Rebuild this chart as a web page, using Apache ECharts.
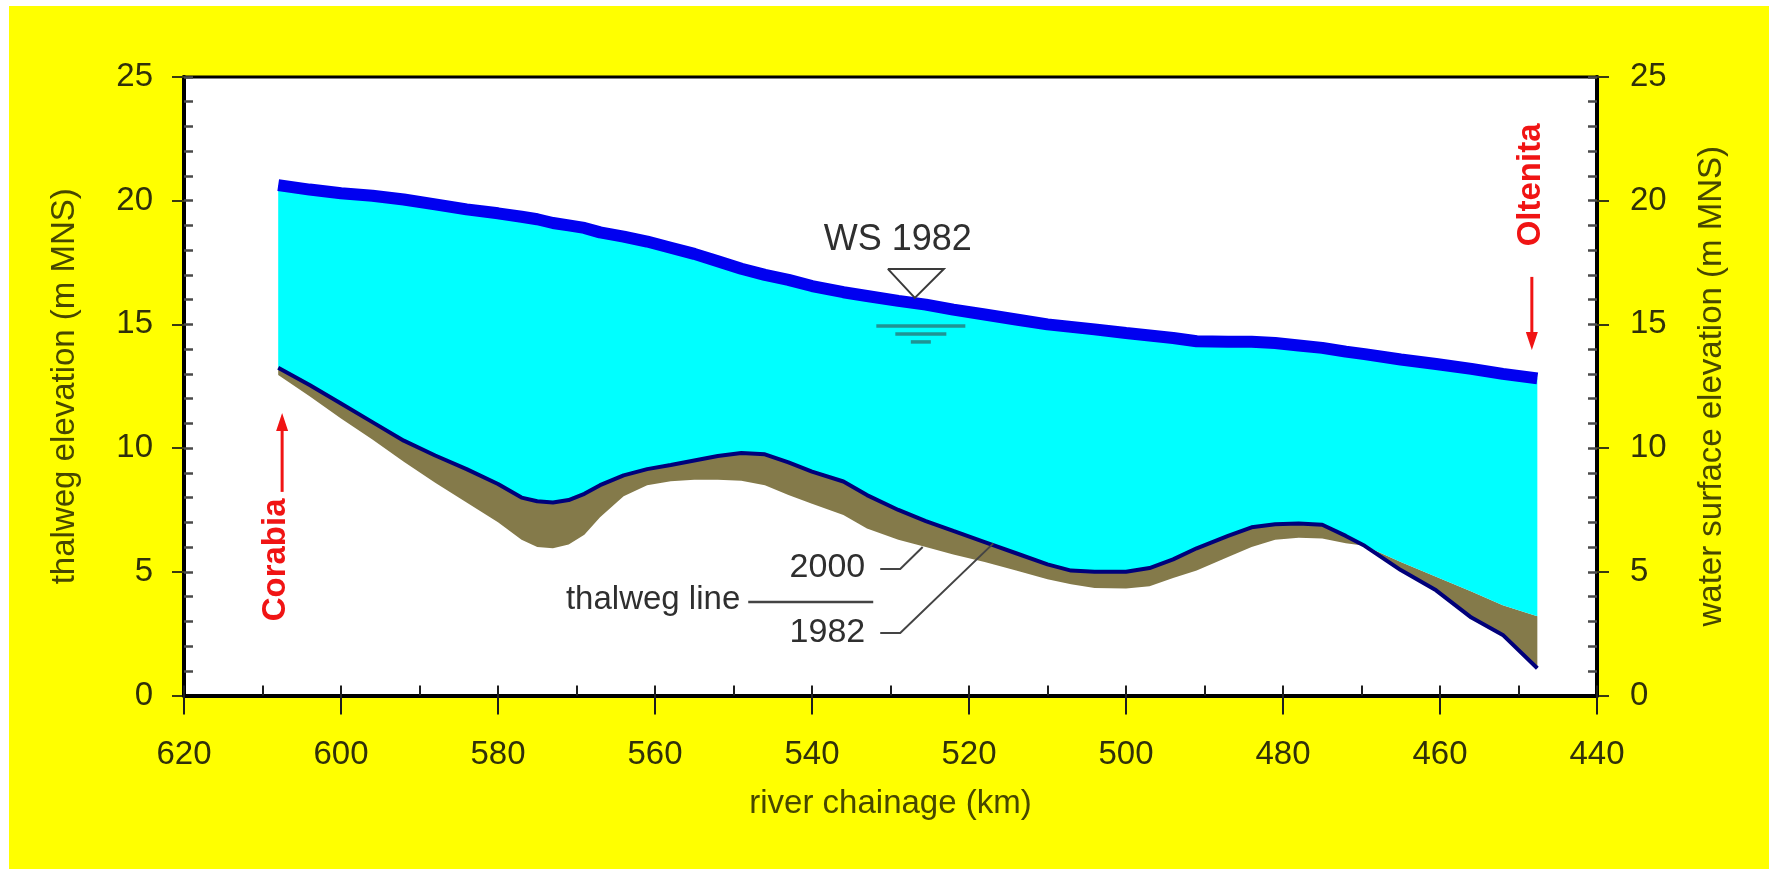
<!DOCTYPE html>
<html>
<head>
<meta charset="utf-8">
<title>Danube thalweg profile, Corabia – Oltenita</title>
<script src="https://cdn.jsdelivr.net/npm/echarts@6/dist/echarts.min.js"></script>
<style>
  html, body { margin: 0; padding: 0; background: #ffffff; }
  #chart { position: absolute; left: 9px; top: 6px; width: 1760px; height: 863px; }
</style>
</head>
<body>
<div id="chart"></div>
<script>
// River chainage of the surveyed stations (km), upstream (Corabia) to downstream (Oltenita)
const chainageKm = [608, 604, 600, 596, 592, 588, 584, 580, 577, 575, 573, 571, 569, 567, 564, 561, 558, 555, 552, 549,
  546, 543, 540, 536, 533, 529, 525.5, 522, 518, 514, 510, 507, 504, 500, 497, 494, 491, 487, 484, 481,
  478, 475, 472, 469.6, 465, 460.5, 456, 452, 447.6];

// Water surface elevation 1982 (m MNS)
const waterSurface1982 = [20.63, 20.45, 20.3, 20.2, 20.05, 19.85, 19.65, 19.49, 19.35, 19.25, 19.1, 19.0, 18.9, 18.72, 18.55, 18.35, 18.1, 17.85, 17.55, 17.25,
  17.0, 16.8, 16.55, 16.3, 16.15, 15.95, 15.8, 15.6, 15.4, 15.2, 15.0, 14.9, 14.8, 14.65, 14.55, 14.45, 14.32, 14.3, 14.3, 14.25,
  14.15, 14.05, 13.9, 13.8, 13.58, 13.4, 13.2, 13.0, 12.82];

// Thalweg elevation 1982 (m MNS)
const thalweg1982 = [13.25, 12.55, 11.8, 11.05, 10.3, 9.7, 9.15, 8.55, 8.0, 7.85, 7.8, 7.9, 8.15, 8.5, 8.9, 9.15, 9.32, 9.5, 9.68, 9.8,
  9.75, 9.42, 9.05, 8.65, 8.1, 7.5, 7.05, 6.65, 6.2, 5.75, 5.3, 5.05, 5.0, 5.0, 5.15, 5.5, 5.95, 6.45, 6.8, 6.92,
  6.95, 6.9, 6.45, 6.05, 5.07, 4.25, 3.15, 2.45, 1.1];

// Thalweg elevation 2000 (m MNS)
const thalweg2000 = [12.95, 12.1, 11.2, 10.35, 9.45, 8.6, 7.8, 7.0, 6.3, 6.0, 5.95, 6.1, 6.5, 7.2, 8.05, 8.5, 8.66, 8.72, 8.72, 8.68,
  8.5, 8.1, 7.75, 7.3, 6.75, 6.3, 6.0, 5.7, 5.4, 5.05, 4.7, 4.5, 4.35, 4.33, 4.42, 4.75, 5.05, 5.6, 6.0, 6.3,
  6.38, 6.35, 6.15, 6.05, 5.4, 4.8, 4.2, 3.65, 3.2];

// Axis ranges
const chainageRange = [440, 620];
const elevationRange = [0, 25];

// Upper and lower of the two thalweg surveys: water sits on the upper one, the band between them is the bed change
const bedUpper = thalweg1982.map((v, i) => Math.max(v, thalweg2000[i]));
const bedLower = thalweg1982.map((v, i) => Math.min(v, thalweg2000[i]));
const toPairs = vals => chainageKm.map((k, i) => [k, vals[i]]);

const FONT = '"Liberation Sans", Arial, Helvetica, sans-serif';
const AXIS_TEXT = '#30300a';
const NAME_TEXT = '#474700';
const NOTE_TEXT = '#2f2f2f';
const RED = '#f01414';

const chart = echarts.init(document.getElementById('chart'), null, { renderer: 'canvas' });

// Filled region between two profiles, placed through the cartesian scales
function band(name, upper, lower, fill) {
  return {
    name, type: 'custom', silent: true, z: 2,
    data: [[chainageKm[0], upper[0]]],
    renderItem: (params, api) => {
      const pts = chainageKm.map((k, i) => api.coord([k, upper[i]]));
      for (let i = chainageKm.length - 1; i >= 0; i--) pts.push(api.coord([chainageKm[i], lower[i]]));
      return { type: 'polygon', shape: { points: pts }, style: { fill } };
    }
  };
}

function arrow(from, tip, dir) {
  // dir = -1 head points up, +1 head points down
  const headLen = 18, headHalf = 6;
  return [
    { type: 'line', shape: { x1: from[0], y1: from[1], x2: tip[0], y2: tip[1] - dir * headLen * 0.6 },
      style: { stroke: RED, lineWidth: 3 } },
    { type: 'polygon', shape: { points: [[tip[0], tip[1]], [tip[0] - headHalf, tip[1] - dir * headLen], [tip[0] + headHalf, tip[1] - dir * headLen]] },
      style: { fill: RED } }
  ];
}

function drawNotes(params, api) {
  const P = (km, v) => api.coord([km, v]);
  const kids = [];

  // Water surface marker "WS 1982"
  const apex = P(526.9, 16.07);
  kids.push({ type: 'text', x: apex[0] - 17, y: apex[1] - 58,
    style: { text: 'WS 1982', fontSize: 36, fontFamily: FONT, fill: NOTE_TEXT, align: 'center', verticalAlign: 'middle' } });
  kids.push({ type: 'polyline', shape: { points: [[apex[0] - 27, apex[1] - 29], [apex[0] + 29, apex[1] - 29], [apex[0], apex[1]], [apex[0] - 27, apex[1] - 29]] },
    style: { stroke: '#3a3a3a', lineWidth: 2, fill: null } });
  [[28, 89], [36, 51], [44, 20]].forEach(([dy, w]) => {
    kids.push({ type: 'line', shape: { x1: apex[0] + 6 - w / 2, y1: apex[1] + dy, x2: apex[0] + 6 + w / 2, y2: apex[1] + dy },
      style: { stroke: '#1f9494', lineWidth: 3.5 } });
  });

  // Thalweg line callout
  const a = P(532.2, 3.78);
  const tip2000 = P(525.9, 6.0);
  const tip1982 = P(516.9, 6.15);
  kids.push({ type: 'text', x: a[0] - 133, y: a[1] - 2,
    style: { text: 'thalweg line', fontSize: 33, fontFamily: FONT, fill: NOTE_TEXT, align: 'right', verticalAlign: 'middle' } });
  kids.push({ type: 'line', shape: { x1: a[0] - 125, y1: a[1], x2: a[0], y2: a[1] }, style: { stroke: '#444', lineWidth: 2.5 } });
  kids.push({ type: 'text', x: a[0] - 8, y: a[1] - 34,
    style: { text: '2000', fontSize: 34, fontFamily: FONT, fill: NOTE_TEXT, align: 'right', verticalAlign: 'middle' } });
  kids.push({ type: 'text', x: a[0] - 8, y: a[1] + 31,
    style: { text: '1982', fontSize: 34, fontFamily: FONT, fill: NOTE_TEXT, align: 'right', verticalAlign: 'middle' } });
  kids.push({ type: 'polyline', shape: { points: [[a[0] + 7, a[1] - 33], [a[0] + 27, a[1] - 33], tip2000] },
    style: { stroke: '#444', lineWidth: 2, fill: null } });
  kids.push({ type: 'polyline', shape: { points: [[a[0] + 7, a[1] + 31], [a[0] + 27, a[1] + 31], tip1982] },
    style: { stroke: '#444', lineWidth: 2, fill: null } });

  // Corabia (upstream end)
  const cBase = P(607.5, 8.23), cTip = P(607.5, 11.42);
  kids.push(...arrow(cBase, cTip, -1));
  kids.push({ type: 'text', x: cBase[0] - 6, y: cBase[1] + 68, rotation: Math.PI / 2,
    style: { text: 'Corabia', fontSize: 33, fontWeight: 'bold', fontFamily: FONT, fill: RED, align: 'center', verticalAlign: 'middle' } });

  // Oltenita (downstream end)
  const oBase = P(448.3, 16.92), oTip = P(448.3, 13.97);
  kids.push(...arrow(oBase, oTip, 1));
  kids.push({ type: 'text', x: oBase[0] - 1, y: oBase[1] - 92, rotation: Math.PI / 2,
    style: { text: 'Oltenita', fontSize: 33, fontWeight: 'bold', fontFamily: FONT, fill: RED, align: 'center', verticalAlign: 'middle' } });

  return { type: 'group', children: kids };
}

const labelStyle = { color: AXIS_TEXT, fontSize: 33, fontFamily: FONT };
const nameStyle = { color: NAME_TEXT, fontSize: 33, fontFamily: FONT };

const option = {
  animation: false,
  backgroundColor: '#ffff00',
  grid: { left: 175, top: 71, right: 172, bottom: 173.5, show: true, backgroundColor: '#ffffff', borderColor: '#000', borderWidth: 3 },
  xAxis: [
    { type: 'value', position: 'bottom', inverse: true, min: chainageRange[0], max: chainageRange[1], interval: 20, z: 10,
      axisLine: { show: true, onZero: false, lineStyle: { color: '#000', width: 4 } },
      axisTick: { show: true, inside: false, length: 19, lineStyle: { color: '#1e1e1e', width: 2 } },
      axisLabel: Object.assign({ margin: 43 }, labelStyle),
      splitLine: { show: false },
      name: 'river chainage (km)', nameLocation: 'middle', nameGap: 92, nameTextStyle: nameStyle },
    { type: 'value', position: 'bottom', inverse: true, min: chainageRange[0], max: chainageRange[1], interval: 10, z: 10,
      axisLine: { show: false }, axisLabel: { show: false }, splitLine: { show: false },
      axisTick: { show: true, inside: true, length: 10, lineStyle: { color: '#1e1e1e', width: 2 } } }
  ],
  yAxis: [
    { type: 'value', position: 'left', min: elevationRange[0], max: elevationRange[1], interval: 5,
      axisLine: { show: true, onZero: false, lineStyle: { color: '#000', width: 4 } },
      axisTick: { show: true, inside: false, length: 12, lineStyle: { color: '#3a3a10', width: 2 } },
      axisLabel: Object.assign({ margin: 31 }, labelStyle),
      splitLine: { show: false },
      name: 'thalweg elevation (m MNS)', nameLocation: 'middle', nameGap: 103, nameRotate: 90, nameTextStyle: nameStyle },
    { type: 'value', position: 'left', min: elevationRange[0], max: elevationRange[1], interval: 1,
      axisLine: { show: false }, axisLabel: { show: false }, splitLine: { show: false },
      axisTick: { show: true, inside: true, length: 9, lineStyle: { color: '#4a4a4a', width: 2.5 } } },
    { type: 'value', position: 'right', min: elevationRange[0], max: elevationRange[1], interval: 5,
      axisLine: { show: true, onZero: false, lineStyle: { color: '#000', width: 4 } },
      axisTick: { show: true, inside: false, length: 12, lineStyle: { color: '#3a3a10', width: 2 } },
      axisLabel: Object.assign({ margin: 33 }, labelStyle),
      splitLine: { show: false },
      name: 'water surface elevation (m MNS)', nameLocation: 'middle', nameGap: 98, nameRotate: 90, nameTextStyle: nameStyle },
    { type: 'value', position: 'right', min: elevationRange[0], max: elevationRange[1], interval: 1,
      axisLine: { show: false }, axisLabel: { show: false }, splitLine: { show: false },
      axisTick: { show: true, inside: true, length: 9, lineStyle: { color: '#4a4a4a', width: 2.5 } } }
  ],
  series: [
    band('bed change 1982–2000', bedUpper, bedLower, '#847a4a'),
    band('water 1982', waterSurface1982, bedUpper, '#00ffff'),
    { name: 'thalweg 1982', type: 'line', data: toPairs(thalweg1982), symbol: 'none', silent: true,
      lineStyle: { color: '#00007a', width: 4 }, z: 4 },
    { name: 'WS 1982', type: 'line', data: toPairs(waterSurface1982), symbol: 'none', silent: true,
      lineStyle: { color: '#0000f0', width: 12 }, z: 5 },
    { name: 'notes', type: 'custom', data: [[530, 10]], renderItem: drawNotes, silent: true, z: 6, clip: false }
  ]
};

chart.setOption(option);
</script>
</body>
</html>
